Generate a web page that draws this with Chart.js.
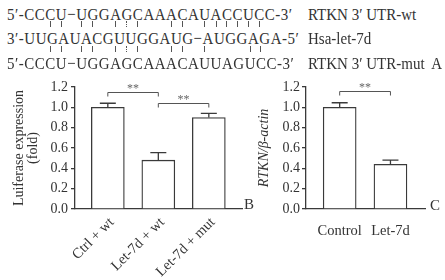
<!DOCTYPE html>
<html>
<head>
<meta charset="utf-8">
<script src="https://cdn.jsdelivr.net/npm/chart.js@4.4.0/dist/chart.umd.min.js"></script>
<style>
  body { margin: 0; width: 445px; height: 280px; overflow: hidden; position: relative; background: #fff;
         font-family: "Liberation Serif", "Times New Roman", serif; color: #333; }
  .seq, .lab { position: absolute; font-size: 15px; line-height: 17px; white-space: pre;
               transform: scaleY(1.18); transform-origin: 0 13.5px; }
  .seq { left: 7px; letter-spacing: 0.5px; }
  .lab { left: 308px; }
  .pair { position: absolute; width: 0; border-left: 1px solid #555; }
  .pair.wobble { border-left-style: dotted; }
  .panel { position: absolute; top: 70px; height: 210px; }
  .letter { position: absolute; font-size: 15px; line-height: 15px; }
</style>
</head>
<body>
<div class="panel" style="left:0;width:244px"><canvas id="chartB"></canvas></div>
<div class="panel" style="left:244px;width:201px"><canvas id="chartC"></canvas></div>
<div class="letter" style="left:244px;top:197px">B</div>
<div class="letter" style="left:430px;top:198px">C</div>
<script>
// sequences
const seqWt = '5′-CCCU−UGGAGCAAACAUACCUCC-3′';
const seqMir = '3′-UUGAUACGUUGGAUG−AUGGAGA-5′';
const seqMut = '5′-CCCU−UGGAGCAAACAUUAGUCC-3′';
const seqLabels = ['RTKN 3′ UTR-wt', 'Hsa-let-7d', 'RTKN 3′ UTR-mut  A'];
const pairsWt = [3, 4, 6, 7, 9, 10, 11, 14, 15, 17, 18, 19, 20, 21, 22];
const pairsMut = [3, 4, 6, 7, 9, 10, 11, 14, 15, 17, 21, 22];
const wobblePairs = [10];

// panel B: luciferase
const lucCategories = ['Ctrl + wt', 'Let-7d + wt', 'Let-7d + mut'];
const lucValues = [1.00, 0.48, 0.90];
const lucErrors = [0.04, 0.075, 0.04];

// panel C: RTKN / beta-actin
const rtknCategories = ['Control', 'Let-7d'];
const rtknValues = [1.00, 0.44];
const rtknErrors = [0.045, 0.04];

const yTicks = [0, 0.2, 0.4, 0.6, 0.8, 1.0, 1.2];

const ink = '#3a3a3a';

// ---- sequence block ----
function addLine(text, top) {
  const d = document.createElement('div');
  d.className = 'seq';
  d.style.top = top + 'px';
  for (const ch of text) {
    const s = document.createElement('span');
    s.textContent = ch;
    d.appendChild(s);
  }
  document.body.appendChild(d);
  return d;
}
function addLabel(text, top) {
  const d = document.createElement('div');
  d.className = 'lab';
  d.style.top = top + 'px';
  d.textContent = text;
  document.body.appendChild(d);
}
const lineTops = [6.5, 30.8, 55.8];
const lineWt = addLine(seqWt, lineTops[0]);
addLine(seqMir, lineTops[1]);
const lineMut = addLine(seqMut, lineTops[2]);
seqLabels.forEach((t, i) => addLabel(t, lineTops[i]));

function addPairs(line, cols, y0, y1) {
  const spans = line.children;
  cols.forEach(c => {
    const r = spans[c + 2].getBoundingClientRect();
    const m = document.createElement('div');
    m.className = 'pair' + (wobblePairs.includes(c) ? ' wobble' : '');
    m.style.left = (r.left + (r.width - 0.5) / 2 - 0.5) + 'px';
    m.style.top = y0 + 'px';
    m.style.height = (y1 - y0) + 'px';
    document.body.appendChild(m);
  });
}
addPairs(lineWt, pairsWt, 21, 27);
addPairs(lineMut, pairsMut, 46, 52);

// ---- charts ----
Chart.defaults.font.family = '"Liberation Serif", "Times New Roman", serif';
Chart.defaults.color = '#333';

const errorBars = {
  id: 'errorBars',
  afterDatasetsDraw(chart, args, opts) {
    const ctx = chart.ctx;
    const y = chart.scales.y;
    const data = chart.data.datasets[0].data;
    ctx.save();
    ctx.strokeStyle = ink;
    ctx.lineWidth = 1.3;
    chart.getDatasetMeta(0).data.forEach((bar, i) => {
      const top = y.getPixelForValue(data[i].y + opts.errors[i]);
      ctx.beginPath();
      ctx.moveTo(bar.x, bar.y);
      ctx.lineTo(bar.x, top);
      ctx.moveTo(bar.x - 8, top);
      ctx.lineTo(bar.x + 8, top);
      ctx.stroke();
    });
    ctx.restore();
  }
};

const brackets = {
  id: 'brackets',
  afterDraw(chart, args, opts) {
    const ctx = chart.ctx, x = chart.scales.x, y = chart.scales.y;
    ctx.save();
    opts.items.forEach(b => {
      const x1 = x.getPixelForValue(b.from), x2 = x.getPixelForValue(b.to);
      const yy = Math.round(y.getPixelForValue(b.level)) + 0.5;
      ctx.strokeStyle = '#555';
      ctx.lineWidth = 1;
      ctx.beginPath();
      ctx.moveTo(x1, yy + 4);
      ctx.lineTo(x1, yy);
      ctx.lineTo(x2, yy);
      ctx.lineTo(x2, yy + 4);
      ctx.stroke();
      ctx.fillStyle = '#666';
      ctx.font = '12px "Liberation Serif", serif';
      ctx.textAlign = 'center';
      ctx.textBaseline = 'alphabetic';
      ctx.fillText('**', (x1 + x2) / 2, yy - 1);
    });
    ctx.restore();
  }
};

function makeChart(id, cats, values, errors, o) {
  return new Chart(document.getElementById(id), {
    type: 'bar',
    data: {
      datasets: [{
        data: values.map((v, i) => ({ x: i + 1, y: v })),
        backgroundColor: '#fff',
        borderColor: ink,
        borderWidth: 1.3,
        barThickness: 33
      }]
    },
    options: {
      animation: false,
      responsive: true,
      maintainAspectRatio: false,
      layout: { padding: { top: 17, right: o.padRight, left: 0, bottom: 0 } },
      plugins: {
        legend: { display: false },
        tooltip: { enabled: false },
        errorBars: { errors: errors },
        brackets: { items: o.brackets }
      },
      scales: {
        x: {
          type: 'linear',
          offset: false,
          min: o.xMin,
          max: o.xMax,
          afterBuildTicks: s => { s.ticks = cats.map((c, i) => ({ value: i + 1 })); },
          afterFit: s => { s.height = 71; },
          ticks: {
            autoSkip: false,
            minRotation: o.rotation,
            maxRotation: o.rotation,
            padding: o.xPad,
            labelOffset: o.xShift,
            font: { size: 14.5 },
            callback: (v, i) => cats[i]
          },
          grid: { display: false },
          border: { display: true, color: ink, width: 1.3 }
        },
        y: {
          min: 0,
          max: 1.2,
          afterBuildTicks: s => { s.ticks = yTicks.map(v => ({ value: v })); },
          afterFit: s => { s.width = o.yWidth; },
          ticks: { padding: o.yPad, font: { size: 14 }, callback: v => v.toFixed(1) },
          grid: { drawOnChartArea: false, tickLength: 4, color: ink, lineWidth: 1.3 },
          border: { color: ink, width: 1.3 },
          title: {
            display: true,
            text: o.title,
            color: '#333',
            font: { size: 14, style: o.titleStyle, lineHeight: 0.97 },
            padding: { top: o.titlePad, bottom: 0 }
          }
        }
      }
    },
    plugins: [errorBars, brackets]
  });
}

makeChart('chartB', lucCategories, lucValues, lucErrors, {
  padRight: 2, xMin: 0.35, xMax: 3.657, rotation: 45, xPad: -3, xShift: 4, yWidth: 75, yPad: 3,
  title: ['Luiferase expression', '(fold)'], titleStyle: 'normal', titlePad: 13,
  brackets: [{ from: 1, to: 2, level: 1.152 }, { from: 2, to: 3, level: 1.047 }]
});

makeChart('chartC', rtknCategories, rtknValues, rtknErrors, {
  padRight: 20, xMin: 0.337, xMax: 2.68, rotation: 0, xPad: 5, xShift: 0, yWidth: 62, yPad: 2,
  title: 'RTKN/β-actin', titleStyle: 'italic', titlePad: 14,
  brackets: [{ from: 1, to: 2, level: 1.157 }]
});
</script>
</body>
</html>
